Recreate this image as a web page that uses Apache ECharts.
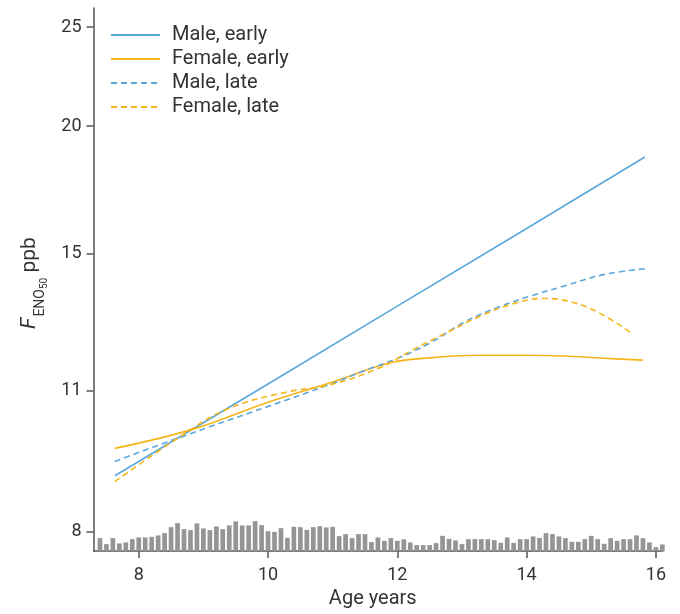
<!DOCTYPE html>
<html>
<head>
<meta charset="utf-8">
<script src="https://cdn.jsdelivr.net/npm/echarts@6/dist/echarts.min.js"></script>
<style>
html,body{margin:0;padding:0;background:#fff;}
#c{width:680px;height:614px;}
</style>
</head>
<body>
<div id="c"></div>
<script>
// ---- Data ----
const xTicks = [8, 10, 12, 14, 16];
const yTicks = [8, 11, 15, 20, 25];

const maleEarlyAge = [7.63, 10, 12, 14, 15.83];
const maleEarlyVal = [9.08, 11.17, 13.32, 15.87, 18.65];

const femaleEarlyAge = [7.63, 8.87, 9.98, 10.96, 11.89, 12.50, 13.28, 13.95, 14.57, 15.19, 15.80];
const femaleEarlyVal = [9.66, 10.10, 10.71, 11.20, 11.72, 11.85, 11.92, 11.92, 11.90, 11.84, 11.79];

const maleLateAge = [7.63, 8.69, 10.96, 11.47, 11.99, 12.51, 13.02, 13.54, 14.05, 14.57, 15.19, 15.83];
const maleLateVal = [9.38, 9.93, 11.16, 11.50, 11.83, 12.26, 12.83, 13.27, 13.62, 13.93, 14.30, 14.49];

const femaleLateAge = [7.63, 8.58, 9.36, 10.29, 10.96, 11.73, 12.25, 12.76, 13.28, 13.79, 14.26, 14.57, 15.09, 15.63];
const femaleLateVal = [8.96, 9.86, 10.55, 10.97, 11.15, 11.59, 12.08, 12.54, 13.02, 13.39, 13.55, 13.50, 13.15, 12.52];

const ageBins = [7.4, 7.5, 7.6, 7.7, 7.8, 7.9,
  8.0, 8.1, 8.2, 8.3, 8.4, 8.5, 8.6, 8.7, 8.8, 8.9,
  9.0, 9.1, 9.2, 9.3, 9.4, 9.5, 9.6, 9.7, 9.8, 9.9,
  10.0, 10.1, 10.2, 10.3, 10.4, 10.5, 10.6, 10.7, 10.8, 10.9,
  11.0, 11.1, 11.2, 11.3, 11.4, 11.5, 11.6, 11.7, 11.8, 11.9,
  12.0, 12.1, 12.2, 12.3, 12.4, 12.5, 12.6, 12.7, 12.8, 12.9,
  13.0, 13.1, 13.2, 13.3, 13.4, 13.5, 13.6, 13.7, 13.8, 13.9,
  14.0, 14.1, 14.2, 14.3, 14.4, 14.5, 14.6, 14.7, 14.8, 14.9,
  15.0, 15.1, 15.2, 15.3, 15.4, 15.5, 15.6, 15.7, 15.8, 15.9,
  16.0, 16.1];
const ageCounts = [13, 7, 13, 7.7, 8.7, 12,
  13.7, 13.7, 14.3, 15.7, 18, 24, 28, 22, 21, 27.7,
  22.7, 21, 24.7, 22, 25.7, 29.7, 25.7, 25.7, 30, 26,
  20, 19.3, 23, 13.3, 24.3, 24, 21.3, 24, 25, 23.7,
  24.3, 15, 17, 13, 17, 17, 9, 13.7, 10.3, 13,
  10.3, 11.7, 8.7, 6, 6, 6, 8, 15.3, 12.3, 10.7,
  7, 12, 12, 12, 12, 11, 8.3, 13.7, 8.3, 12,
  12, 14.7, 13.3, 18, 17, 14.7, 13, 9.3, 9.3, 12,
  15.3, 12, 7.3, 13, 10.3, 12, 12, 15.7, 13, 8.7,
  4, 6.7];

// ---- Chart ----
const FONT = 'Roboto';
const TXT = '#333333';
const AX = '#555555';
const BLUE = '#5aa7dc';
const YELLOW = '#f7b519';

function logPairs(ages, vals) { return ages.map((a, i) => [a, Math.log10(vals[i])]); }
const barData = ageBins.map((a, i) => [a, ageCounts[i]]);
const yTickPos = yTicks.map(v => Math.log10(v));

const chart = echarts.init(document.getElementById('c'));
const option = {
  animation: false,
  backgroundColor: '#ffffff',
  textStyle: { fontFamily: FONT },
  grid: { left: 93.5, right: 17, top: 8, bottom: 62, containLabel: false },
  legend: {
    data: ['Male, early', 'Female, early', 'Male, late', 'Female, late'],
    orient: 'vertical',
    left: 105,
    top: 19,
    itemWidth: 49,
    itemHeight: 14,
    itemGap: 2,
    itemStyle: { opacity: 0 },
    textStyle: { fontSize: 20, color: TXT, fontFamily: FONT, lineHeight: 22, padding: [0, 0, 0, 7] }
  },
  xAxis: [{
    type: 'value',
    min: 7.3,
    max: 16.11,
    axisLine: { show: true, lineStyle: { color: AX, width: 1.5 } },
    axisTick: { show: true, customValues: xTicks, length: 7, lineStyle: { color: AX, width: 1.5 } },
    axisLabel: { customValues: xTicks, margin: 15, fontSize: 18, color: TXT, fontFamily: FONT },
    splitLine: { show: false },
    name: 'Age years',
    nameLocation: 'middle',
    nameGap: 37,
    nameTextStyle: { fontSize: 20, color: TXT, fontFamily: FONT, padding: [0, 11, 0, 0] }
  }],
  yAxis: [{
    type: 'value',
    min: Math.log10(7.66),
    max: Math.log10(26.11),
    axisLine: { show: true, lineStyle: { color: AX, width: 1.5 } },
    axisTick: { show: true, customValues: yTickPos, length: 7, lineStyle: { color: AX, width: 1.5 } },
    axisLabel: {
      customValues: yTickPos, margin: 12, fontSize: 18, color: TXT, fontFamily: FONT,
      formatter: v => String(Math.round(Math.pow(10, v)))
    },
    splitLine: { show: false },
    name: '{f|F}{s|ENO}{ss|50}{n| ppb}',
    nameLocation: 'middle',
    nameRotate: 90,
    nameGap: 48,
    nameTextStyle: {
      color: TXT, fontFamily: FONT, padding: [0, 7, 0, 0],
      rich: {
        f: { fontSize: 21, fontStyle: 'italic', lineHeight: 26, verticalAlign: 'top', color: TXT, fontFamily: FONT },
        s: { fontSize: 14, lineHeight: 14, padding: [14, 0, 0, 1], verticalAlign: 'top', color: TXT, fontFamily: FONT },
        ss: { fontSize: 10, lineHeight: 10, padding: [20, 0, 0, 0], verticalAlign: 'top', color: TXT, fontFamily: FONT },
        n: { fontSize: 21, lineHeight: 26, verticalAlign: 'top', color: TXT, fontFamily: FONT }
      }
    }
  }, {
    type: 'value', min: 0, max: 544, show: false
  }],
  series: [
    {
      name: 'Age distribution', type: 'bar', xAxisIndex: 0, yAxisIndex: 1,
      data: barData, barWidth: 4.7, itemStyle: { color: '#959595' }, z: 1, silent: true
    },
    {
      name: 'Male, early', type: 'line', data: logPairs(maleEarlyAge, maleEarlyVal),
      symbol: 'none', smooth: false, color: BLUE, lineStyle: { color: BLUE, width: 1.6 }, z: 3
    },
    {
      name: 'Female, early', type: 'line', data: logPairs(femaleEarlyAge, femaleEarlyVal),
      symbol: 'none', smooth: 0.4, color: YELLOW, lineStyle: { color: YELLOW, width: 1.6 }, z: 3
    },
    {
      name: 'Male, late', type: 'line', data: logPairs(maleLateAge, maleLateVal),
      symbol: 'none', smooth: 0.4, color: BLUE, lineStyle: { color: BLUE, width: 1.6, type: [6, 4] }, z: 3
    },
    {
      name: 'Female, late', type: 'line', data: logPairs(femaleLateAge, femaleLateVal),
      symbol: 'none', smooth: 0.4, color: YELLOW, lineStyle: { color: YELLOW, width: 1.6, type: [6, 4] }, z: 3
    }
  ]
};
chart.setOption(option);
</script>
</body>
</html>
